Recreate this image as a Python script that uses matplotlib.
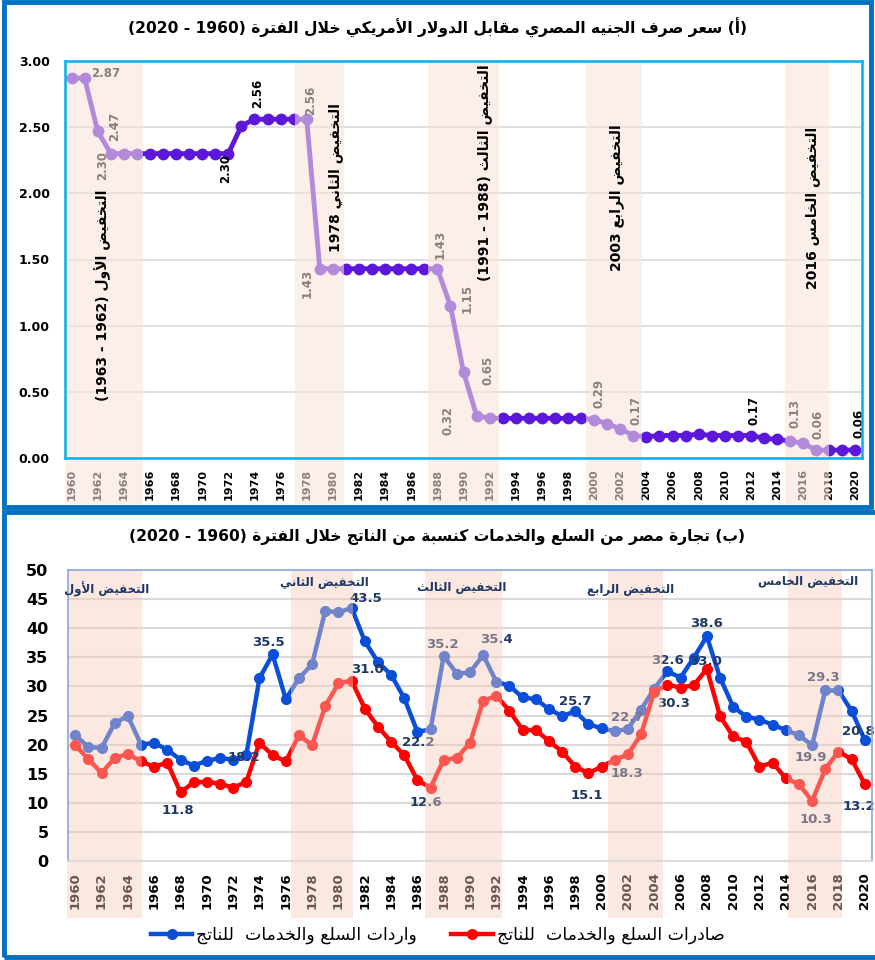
import re
import matplotlib
matplotlib.use('Agg')
import matplotlib.pyplot as plt
from matplotlib.patches import Rectangle
from matplotlib.lines import Line2D
import matplotlib.transforms as mtransforms

# ---------------- data ----------------
years = list(range(1960, 2021))

# exchange rate of the Egyptian pound (USD per EGP)
exchange_rate = [2.87, 2.87, 2.47, 2.30, 2.30, 2.30,                    # 1960-65
                 2.30, 2.30, 2.30, 2.30, 2.30, 2.30, 2.30,              # 1966-72
                 2.51, 2.56, 2.56, 2.56, 2.56, 2.56,                    # 1973-78
                 1.43, 1.43, 1.43, 1.43, 1.43, 1.43, 1.43, 1.43, 1.43, 1.43,  # 1979-88
                 1.15, 0.65, 0.32, 0.30,                                # 1989-92
                 0.30, 0.30, 0.30, 0.30, 0.30, 0.30, 0.30,              # 1993-99
                 0.29, 0.26, 0.22, 0.17,                                # 2000-03
                 0.16, 0.17, 0.17, 0.17, 0.18, 0.17, 0.17, 0.17, 0.17, 0.15, 0.14,  # 2004-14
                 0.13, 0.11, 0.06, 0.06, 0.06, 0.06]                    # 2015-20

# imports / exports of goods and services (% of GDP)
imports_gdp = [21.6, 19.6, 19.4, 23.7, 24.9, 20.0, 20.3, 19.1, 17.4, 16.4,
               17.2, 17.7, 17.4, 18.2, 31.4, 35.5, 27.8, 31.4, 33.8, 43.0,
               42.7, 43.5, 37.8, 34.2, 32.0, 28.0, 22.2, 22.6, 35.2, 32.2,
               32.4, 35.4, 30.8, 30.1, 28.1, 27.8, 26.1, 24.9, 25.7, 23.5,
               22.8, 22.3, 22.7, 26.0, 29.6, 32.6, 31.5, 34.9, 38.6, 31.5,
               26.5, 24.8, 24.3, 23.4, 22.5, 21.6, 19.9, 29.3, 29.3, 25.8,
               20.8]
exports_gdp = [19.9, 17.5, 15.1, 17.7, 18.4, 17.1, 16.2, 16.9, 11.8, 13.5,
               13.6, 13.3, 12.6, 13.6, 20.3, 18.2, 17.1, 21.6, 19.9, 26.6,
               30.5, 31.0, 26.2, 23.1, 20.5, 18.2, 13.9, 12.6, 17.4, 17.7,
               20.3, 27.5, 28.4, 25.8, 22.5, 22.5, 20.6, 18.8, 16.2, 15.1,
               16.2, 17.4, 18.3, 21.8, 29.1, 30.3, 29.8, 30.2, 33.0, 24.9,
               21.4, 20.5, 16.2, 16.9, 14.2, 13.2, 10.3, 15.8, 18.8, 17.5,
               13.2]

tick_years = list(range(1960, 2021, 2))

top_title = '(أ) سعر صرف الجنيه المصري مقابل الدولار الأمريكي خلال الفترة (1960 - 2020)'
bottom_title = '(ب) تجارة مصر من السلع والخدمات كنسبة من الناتج خلال الفترة (1960 - 2020)'

devaluations_long = ['التخفيض الأول (1962 - 1963)', 'التخفيض الثاني 1978',
                     'التخفيض الثالث (1988 - 1991)', 'التخفيض الرابع 2003',
                     'التخفيض الخامس 2016']
devaluations_short = ['التخفيض الأول', 'التخفيض الثاني', 'التخفيض الثالث',
                      'التخفيض الرابع', 'التخفيض الخامس']
legend_imports = 'واردات السلع والخدمات  للناتج'
legend_exports = 'صادرات السلع والخدمات  للناتج'

# labelled points
top_label_years = [1961, 1962, 1963, 1972, 1974, 1978, 1979, 1988, 1989, 1990,
                   1991, 2000, 2003, 2012, 2015, 2017, 2020]
imp_label_years = [1973, 1975, 1981, 1986, 1988, 1991, 1998, 2002, 2005, 2008,
                   2016, 2017, 2020]
exp_label_years = [1968, 1981, 1987, 1999, 2002, 2005, 2008, 2016, 2020]


# ---------------- arabic shaping (matplotlib has no RTL / joining) ----------------
FORMS = {0x0621: (0xFE80, 1), 0x0622: (0xFE81, 2), 0x0623: (0xFE83, 2),
         0x0624: (0xFE85, 2), 0x0625: (0xFE87, 2), 0x0626: (0xFE89, 4),
         0x0627: (0xFE8D, 2), 0x0628: (0xFE8F, 4), 0x0629: (0xFE93, 2),
         0x062A: (0xFE95, 4), 0x062B: (0xFE99, 4), 0x062C: (0xFE9D, 4),
         0x062D: (0xFEA1, 4), 0x062E: (0xFEA5, 4), 0x062F: (0xFEA9, 2),
         0x0630: (0xFEAB, 2), 0x0631: (0xFEAD, 2), 0x0632: (0xFEAF, 2),
         0x0633: (0xFEB1, 4), 0x0634: (0xFEB5, 4), 0x0635: (0xFEB9, 4),
         0x0636: (0xFEBD, 4), 0x0637: (0xFEC1, 4), 0x0638: (0xFEC5, 4),
         0x0639: (0xFEC9, 4), 0x063A: (0xFECD, 4), 0x0641: (0xFED1, 4),
         0x0642: (0xFED5, 4), 0x0643: (0xFED9, 4), 0x0644: (0xFEDD, 4),
         0x0645: (0xFEE1, 4), 0x0646: (0xFEE5, 4), 0x0647: (0xFEE9, 4),
         0x0648: (0xFEED, 2), 0x0649: (0xFEEF, 2), 0x064A: (0xFEF1, 4)}
LAM_ALEF = {0x0622: 0xFEF5, 0x0623: 0xFEF7, 0x0625: 0xFEF9, 0x0627: 0xFEFB}
MIRROR = str.maketrans('()', ')(')


def shape(s):
    units = []
    i = 0
    while i < len(s):
        c = ord(s[i])
        if c == 0x0644 and i + 1 < len(s) and ord(s[i + 1]) in LAM_ALEF:
            units.append(('LA', LAM_ALEF[ord(s[i + 1])]))
            i += 2
        else:
            units.append(('C', c))
            i += 1
    out = []
    for k, (kind, c) in enumerate(units):
        prev = units[k - 1] if k > 0 else None
        nxt = units[k + 1] if k + 1 < len(units) else None
        prev_joins = prev is not None and prev[0] == 'C' and FORMS.get(prev[1], (0, 0))[1] == 4
        if kind == 'LA':
            out.append(chr(c + (1 if prev_joins else 0)))
            continue
        if c not in FORMS:
            out.append(chr(c))
            continue
        base, n = FORMS[c]
        pj = prev_joins and n > 1
        nj = n == 4 and nxt is not None and (nxt[0] == 'LA' or (nxt[1] in FORMS and FORMS[nxt[1]][1] > 1))
        if n == 1:
            idx = 0
        elif pj and nj:
            idx = 3
        elif pj:
            idx = 1
        elif nj:
            idx = 2
        else:
            idx = 0
        out.append(chr(base + idx))
    return ''.join(out)


def ar(s):
    shaped = shape(s)
    runs = re.findall(r'[0-9A-Za-z.]+|[^0-9A-Za-z.]+', shaped)
    vis = []
    for r in reversed(runs):
        if re.match(r'[0-9A-Za-z.]', r):
            vis.append(r)
        else:
            vis.append(r[::-1].translate(MIRROR))
    return ''.join(vis)


plt.rcParams['font.family'] = ['DejaVu Sans']

fig = plt.figure(figsize=(8.75, 9.6), dpi=100)

# panel frames
fig.patches.append(Rectangle((4 / 875, 453 / 960), 867 / 875, 505 / 960, transform=fig.transFigure,
                             facecolor='none', edgecolor='#0070C0', lw=3.5, zorder=-1))
fig.patches.append(Rectangle((4 / 875, 3 / 960), 880 / 875, 445 / 960, transform=fig.transFigure,
                             facecolor='none', edgecolor='#0070C0', lw=3.5, zorder=-1))

# ---------------- top chart ----------------
ax1 = fig.add_axes([65 / 875, 1 - 458 / 960, 797 / 875, 397 / 960])
ax1.set_xlim(1959.5, 2020.5)
ax1.set_ylim(0, 3.0)
ax1.set_yticks([0, 0.5, 1.0, 1.5, 2.0, 2.5, 3.0])
ax1.set_yticklabels(['%.2f' % v for v in ax1.get_yticks()], fontsize=9, fontweight='bold')
ax1.set_xticks(tick_years)
ax1.set_xticklabels([str(y) for y in tick_years], rotation=90, fontsize=8, fontweight='bold')
ax1.tick_params(length=0, pad=8)
ax1.tick_params(axis='y', pad=11)
ax1.grid(axis='y', color='#D9D9D9', lw=1.2)
ax1.set_axisbelow(True)
for sp in ax1.spines.values():
    sp.set_color('#00B0F0')
    sp.set_linewidth(1.8)
    sp.set_zorder(6)

ax1.plot(years, exchange_rate, color='#5B17DA', lw=3.5, marker='o', ms=7.5, zorder=3)

top_offsets = {1961: (21, 5, 0), 1962: (17, 5, 90), 1963: (-8, -12, 90), 1972: (-3, -15, 90),
               1974: (3, 26, 90), 1978: (4, 19, 90), 1979: (-13, -15, 90), 1988: (3, 24, 90),
               1989: (17, 7, 90), 1990: (24, 2, 90), 1991: (-29, -5, 90), 2000: (5, 26, 90),
               2003: (3, 25, 90), 2012: (3, 25, 90), 2015: (5, 27, 90), 2017: (2, 26, 90),
               2020: (4, 27, 90)}
for yr in top_label_years:
    v = exchange_rate[years.index(yr)]
    dx, dy, rot = top_offsets[yr]
    ax1.annotate('%.2f' % v, (yr, v), xytext=(dx, dy), textcoords='offset pixels',
                 ha='center', va='center', rotation=rot, fontsize=8.5, fontweight='bold',
                 color='black', zorder=4)

top_bands = [(1959.5, 1965.5), (1977.1, 1980.85), (1987.3, 1992.7), (1999.4, 2003.65), (2014.6, 2017.95)]
trans1 = mtransforms.blended_transform_factory(ax1.transData, ax1.transAxes)
for x0, x1 in top_bands:
    ax1.add_patch(Rectangle((x0, -0.115), x1 - x0, 1.115, transform=trans1, clip_on=False,
                            facecolor='#FAE3DA', edgecolor='none', alpha=0.56, zorder=5))

top_ann_pos = [(1962.4, 1.23), (1980.2, 2.12), (1991.6, 2.16), (2001.7, 1.97), (2016.7, 1.89)]
for (x, y), txt in zip(top_ann_pos, devaluations_long):
    ax1.text(x, y, ar(txt), rotation=90, ha='center', va='center', fontsize=10,
             fontweight='bold', color='black', zorder=7)

fig.text(0.5, 1 - 28 / 960, ar(top_title), ha='center', va='center', fontsize=11.2,
         fontweight='bold')

# ---------------- bottom chart ----------------
ax2 = fig.add_axes([68 / 875, 1 - 861 / 960, 804 / 875, 291 / 960])
ax2.set_xlim(1959.45, 2020.55)
ax2.set_ylim(0, 50)
ax2.set_yticks(range(0, 51, 5))
ax2.set_yticklabels([str(v) for v in range(0, 51, 5)], fontsize=11.5, fontweight='bold')
ax2.set_xticks(tick_years)
ax2.set_xticklabels([str(y) for y in tick_years], rotation=90, fontsize=9.5, fontweight='bold')
ax2.tick_params(length=0, pad=8)
ax2.tick_params(axis='y', pad=14)
ax2.grid(axis='y', color='#D9D9D9', lw=1.5)
ax2.set_axisbelow(True)
for name, sp in ax2.spines.items():
    sp.set_color('#8EA9DB')
    sp.set_linewidth(1.2)
    sp.set_zorder(6)
ax2.spines['bottom'].set_color('#D9D9D9')

ax2.plot(years, imports_gdp, color='#0B4FD8', lw=3.2, marker='o', ms=7, zorder=3)
ax2.plot(years, exports_gdp, color='#FF0000', lw=3.2, marker='o', ms=7, zorder=3)

imp_offsets = {1973: (-2, -2), 1975: (-4, 12), 1981: (14, 9), 1986: (1, -11), 1988: (-1, 12),
               1991: (13, 15), 1998: (0, 10), 2002: (-1, 11), 2005: (0, 11), 2008: (0, 13),
               2016: (-1, -12), 2017: (-2, 13), 2020: (-6, 8)}
exp_offsets = {1968: (-3, -18), 1981: (16, 11), 1987: (-5, -15), 1999: (-2, -22), 2002: (-1, -19),
               2005: (6, -19), 2008: (-1, 7), 2016: (4, -18), 2020: (-6, -22)}
for series, lab_years, offs in [(imports_gdp, imp_label_years, imp_offsets),
                                (exports_gdp, exp_label_years, exp_offsets)]:
    for yr in lab_years:
        v = series[years.index(yr)]
        dx, dy = offs[yr]
        ax2.annotate('%.1f' % v, (yr, v), xytext=(dx, dy), textcoords='offset pixels',
                     ha='center', va='center', fontsize=9.5, fontweight='bold',
                     color='#1F3864', zorder=4, annotation_clip=False)

bottom_bands = [(1959.35, 1965.1), (1976.36, 1981.14), (1986.6, 1992.4), (2000.5, 2004.7), (2014.2, 2018.3)]
trans2 = mtransforms.blended_transform_factory(ax2.transData, ax2.transAxes)
for x0, x1 in bottom_bands:
    ax2.add_patch(Rectangle((x0, -0.195), x1 - x0, 1.195, transform=trans2, clip_on=False,
                            facecolor='#F6CBBA', edgecolor='none', alpha=0.43, zorder=5))

bottom_ann_pos = [(1962.4, 46.6), (1978.9, 47.8), (1989.4, 47.0), (2002.2, 46.6), (2015.7, 48.0)]
for (x, y), txt in zip(bottom_ann_pos, devaluations_short):
    ax2.text(x, y, ar(txt), ha='center', va='center', fontsize=8.5, fontweight='bold',
             color='#1F3864', zorder=7)

fig.text(0.5, 1 - 537 / 960, ar(bottom_title), ha='center', va='center', fontsize=11.2,
         fontweight='bold')

handles = [Line2D([], [], color='#0B4FD8', lw=3.2, marker='o', ms=7),
           Line2D([], [], color='#FF0000', lw=3.2, marker='o', ms=7)]
fig.legend(handles, [ar(legend_imports), ar(legend_exports)], loc='center',
           bbox_to_anchor=(0.5, 1 - 935 / 960), ncol=2, frameon=False, fontsize=12.5,
           handlelength=2.4, handletextpad=0.2, columnspacing=2.0)

fig.savefig('out.png', dpi=100)
